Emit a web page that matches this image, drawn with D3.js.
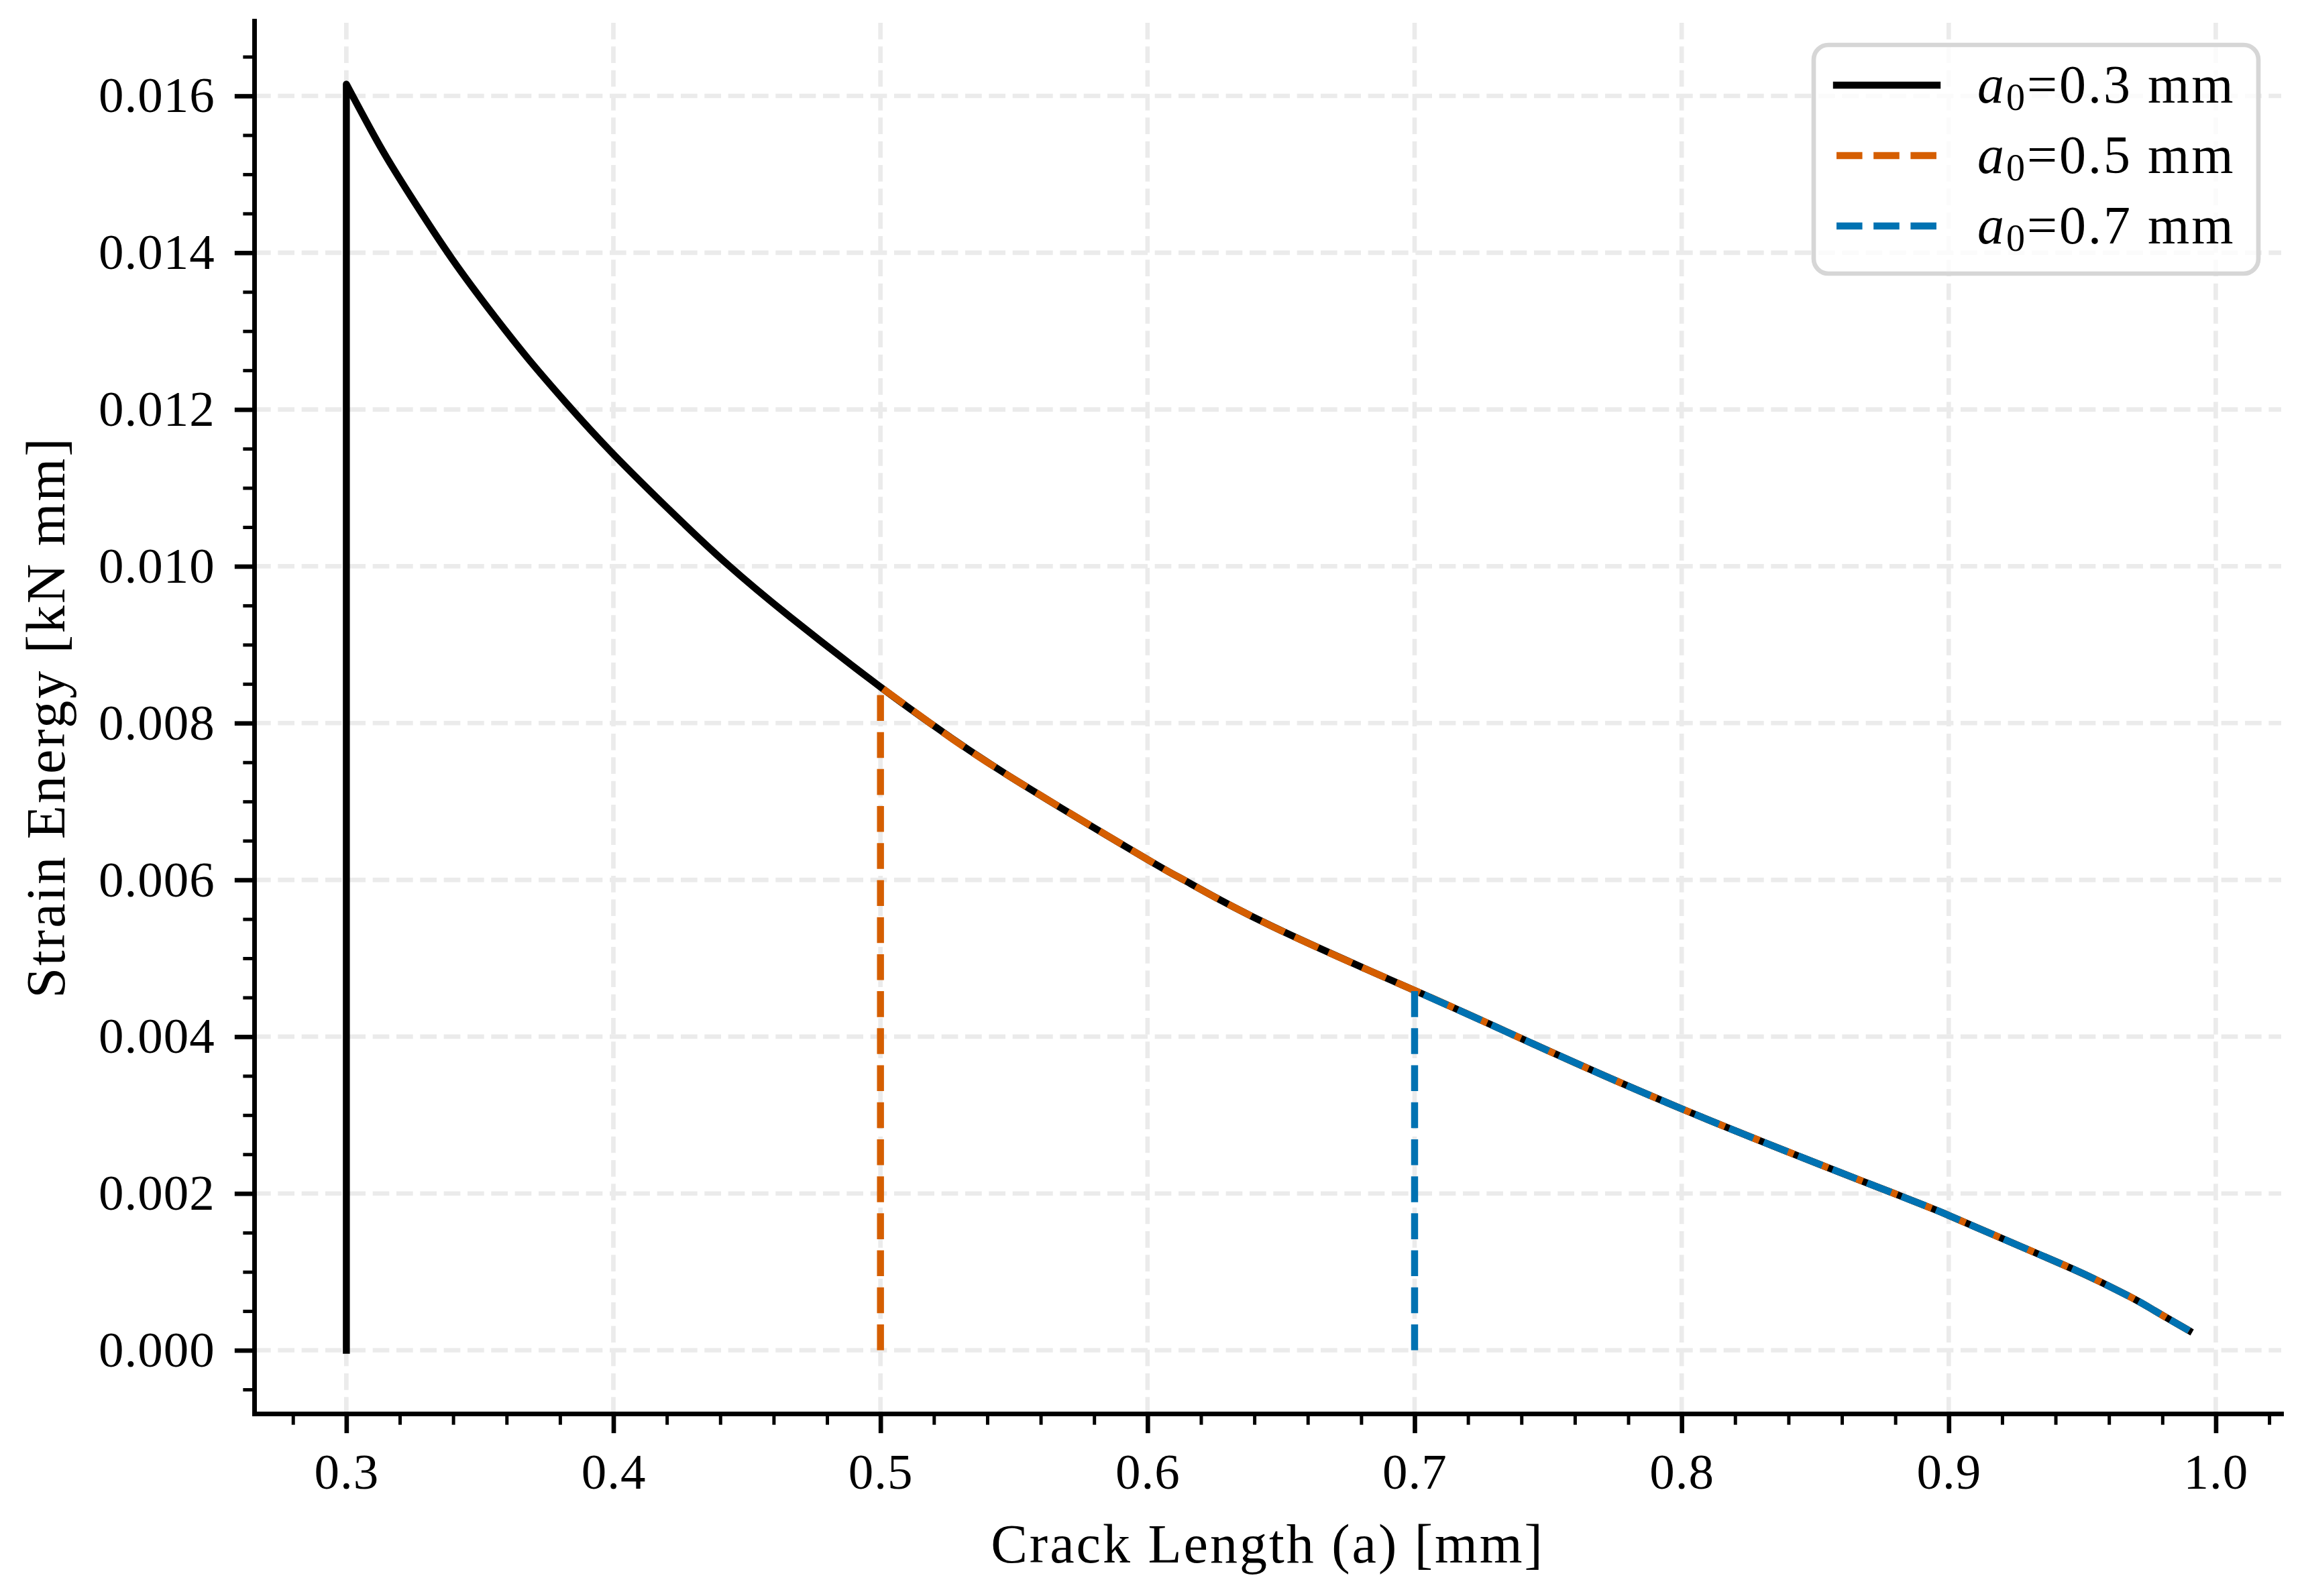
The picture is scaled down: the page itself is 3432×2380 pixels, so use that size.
<!DOCTYPE html>
<html>
<head>
<meta charset="utf-8">
<script src="https://cdn.jsdelivr.net/npm/d3@7"></script>
<style>
  html, body { margin: 0; padding: 0; background: #fff; }
  svg { display: block; font-family: 'Liberation Serif', 'Times New Roman', serif; }
</style>
</head>
<body>
<svg id="chart" width="3432" height="2380"></svg>
<script>
// Crack length a [mm] and strain energy [kN mm]
const crackLength = [0.300, 0.3126, 0.3241, 0.3396, 0.3559, 0.3685, 0.3819, 0.400, 0.4246, 0.4425,
  0.4663, 0.500, 0.519, 0.5479, 0.600, 0.6141, 0.6465, 0.700, 0.7346, 0.800,
  0.8795, 0.900, 0.9163, 0.9429, 0.9563, 0.9697, 0.9773, 0.990];
const strainEnergy = [0.01615, 0.01536, 0.01472, 0.01392, 0.01317, 0.01263, 0.01210, 0.01143, 0.01060, 0.01003,
  0.00935, 0.00846, 0.00799, 0.00733, 0.00626, 0.00599, 0.00541, 0.00459, 0.00406, 0.00308,
  0.00200, 0.00172, 0.00148, 0.00109, 0.00088, 0.00065, 0.00050, 0.00025];

// one run per initial crack length
const initialCracks = [0.3, 0.5, 0.7];
const seriesLabels = ['0.3 mm', '0.5 mm', '0.7 mm'];
const seriesColors = ['#000000', '#D55E00', '#0072B2'];
const seriesDashed = [false, true, true];

const xTicks = [0.3, 0.4, 0.5, 0.6, 0.7, 0.8, 0.9, 1.0];
const yTicks = [0.000, 0.002, 0.004, 0.006, 0.008, 0.010, 0.012, 0.014, 0.016];
const xDomain = [0.2655, 1.0245];
const yDomain = [-0.000808, 0.016958];

const W = 3432, H = 2380;
const margin = { left: 379, right: 31, top: 31, bottom: 272 };
const PT = 600 / 72; // px per point

const svg = d3.select('#chart');
svg.append('rect').attr('width', W).attr('height', H).attr('fill', '#fff');

const x = d3.scaleLinear().domain(xDomain).range([margin.left, W - margin.right]);
const y = d3.scaleLinear().domain(yDomain).range([H - margin.bottom, margin.top]);

const [x0, x1] = x.range();
const [y0, y1] = y.range();

// Grid
const grid = svg.append('g')
  .attr('stroke', '#ebebeb')
  .attr('stroke-width', 0.8 * PT)
  .attr('stroke-dasharray', `${3.7 * 0.8 * PT},${1.6 * 0.8 * PT}`);
grid.selectAll('.vgrid').data(xTicks).join('line')
  .attr('x1', d => x(d)).attr('x2', d => x(d))
  .attr('y1', y0).attr('y2', y1);
grid.selectAll('.hgrid').data(yTicks).join('line')
  .attr('x1', x0).attr('x2', x1)
  .attr('y1', d => y(d)).attr('y2', d => y(d));

// Lines
const lw = 1.25 * PT;
const dash = `${3.7 * lw},${1.6 * lw}`;
const curve = d3.line().x(d => x(d.a)).y(d => y(d.e)).curve(d3.curveNatural);
const points = crackLength.map((a, i) => ({ a, e: strainEnergy[i] }));

initialCracks.forEach((a0, i) => {
  const pts = points.filter(p => p.a >= a0 - 1e-9);
  // vertical jump at a0 then follow the curve, as one subpath so dashes continue
  const d = `M${x(a0)},${y(0)}` + curve(pts).replace(/^M/, 'L');
  svg.append('path')
    .attr('d', d)
    .attr('fill', 'none')
    .attr('stroke', seriesColors[i])
    .attr('stroke-width', lw)
    .attr('stroke-linejoin', 'round')
    .attr('stroke-linecap', seriesDashed[i] ? 'butt' : 'square')
    .attr('stroke-dasharray', seriesDashed[i] ? dash : null);
});

// Axes
const tickFont = 75;
function styleAxis(g, major) {
  g.attr('font-family', null).attr('font-size', null);
  g.select('.domain').attr('stroke', '#000').attr('stroke-width', 0.8 * PT).attr('stroke-linecap', 'square');
  g.selectAll('.tick line').attr('stroke', '#000').attr('stroke-width', major ? 0.8 * PT : 0.6 * PT);
  g.selectAll('.tick text').attr('fill', '#000').attr('font-size', tickFont).attr('letter-spacing', 1);
}

const xMinor = d3.range(0.28, 1.03, 0.02).filter(v => !xTicks.some(t => Math.abs(t - v) < 1e-6));
const yMinor = d3.range(-0.0005, 0.0166, 0.0005).filter(v => !yTicks.some(t => Math.abs(t - v) < 1e-7));

svg.append('g').attr('transform', `translate(0,${y0})`)
  .call(d3.axisBottom(x).tickValues(xMinor).tickSize(2 * PT).tickSizeOuter(0).tickFormat(''))
  .call(g => styleAxis(g, false));
svg.append('g').attr('transform', `translate(${x0},0)`)
  .call(d3.axisLeft(y).tickValues(yMinor).tickSize(2 * PT).tickSizeOuter(0).tickFormat(''))
  .call(g => styleAxis(g, false));

svg.append('g').attr('transform', `translate(0,${y0})`)
  .call(d3.axisBottom(x).tickValues(xTicks).tickSize(3.5 * PT).tickPadding(3.5 * PT)
    .tickSizeOuter(0).tickFormat(d3.format('.1f')))
  .call(g => styleAxis(g, true));
svg.append('g').attr('transform', `translate(${x0},0)`)
  .call(d3.axisLeft(y).tickValues(yTicks).tickSize(3.5 * PT).tickPadding(3.5 * PT)
    .tickSizeOuter(0).tickFormat(d3.format('.3f')))
  .call(g => styleAxis(g, true));

// Axis labels
const labelFont = 82;
svg.append('text')
  .attr('x', (x0 + x1) / 2).attr('y', 2330)
  .attr('text-anchor', 'middle').attr('font-size', labelFont).attr('letter-spacing', 3)
  .text('Crack Length (a) [mm]');
svg.append('text')
  .attr('transform', `translate(96,${(y0 + y1) / 2}) rotate(-90)`)
  .attr('text-anchor', 'middle').attr('font-size', labelFont).attr('letter-spacing', 3)
  .text('Strain Energy [kN mm]');

// Legend
const legend = svg.append('g');
legend.append('rect')
  .attr('x', 2704).attr('y', 67).attr('width', 663).attr('height', 341).attr('rx', 22)
  .attr('fill', '#fff').attr('fill-opacity', 0.8)
  .attr('stroke', '#d6d6d6').attr('stroke-width', 0.8 * PT);

const rowY = [127, 232, 337];
initialCracks.forEach((a0, i) => {
  legend.append('line')
    .attr('x1', 2738).attr('x2', 2888).attr('y1', rowY[i]).attr('y2', rowY[i])
    .attr('stroke', seriesColors[i]).attr('stroke-width', lw)
    .attr('stroke-linecap', seriesDashed[i] ? 'butt' : 'square')
    .attr('stroke-dasharray', seriesDashed[i] ? dash : null);
  const t = legend.append('text')
    .attr('x', 2948).attr('y', rowY[i] + 26).attr('font-size', 80).attr('letter-spacing', 3);
  t.append('tspan').attr('font-style', 'italic').text('a');
  t.append('tspan').attr('font-size', 56).attr('dy', 11).text('0');
  t.append('tspan').attr('dy', -11).text('=' + seriesLabels[i]);
});
</script>
</body>
</html>
